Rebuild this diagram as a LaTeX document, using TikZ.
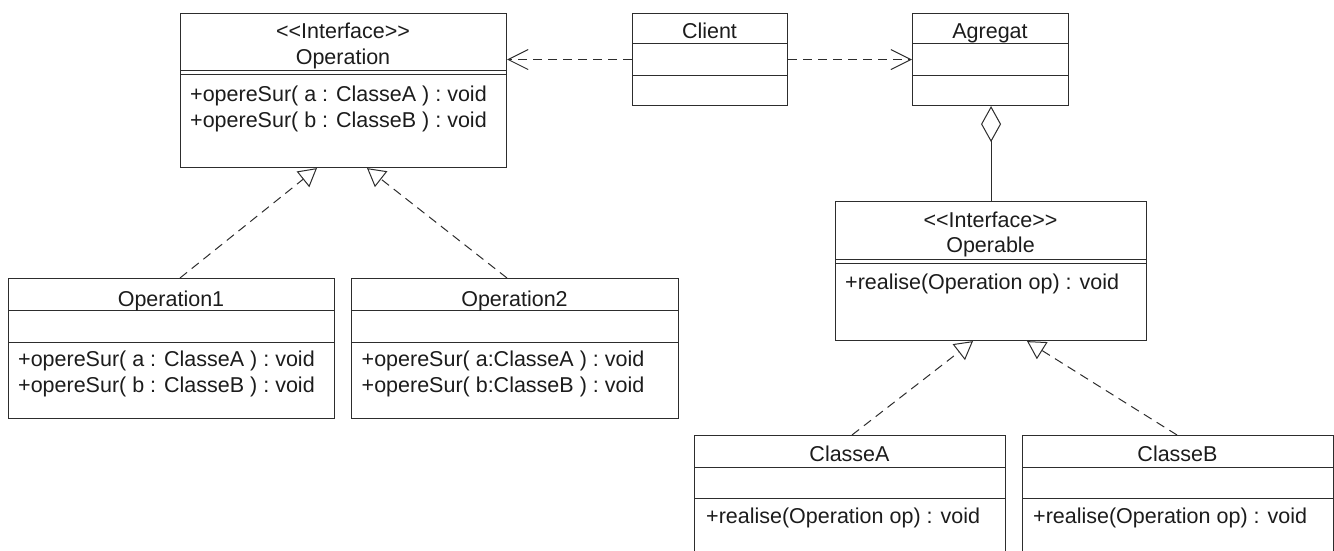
\documentclass[tikz,border=0pt]{standalone}
\usepackage{fontspec}
\setmainfont{Liberation Sans}[Ligatures=TeXOff]
\usetikzlibrary{arrows.meta,calc}
\definecolor{umlline}{RGB}{45,45,45}
\definecolor{umltext}{RGB}{28,28,28}
\begin{document}
\begin{tikzpicture}[x=1pt,y=-1pt,
  classbox/.style={draw=umlline, line width=1.1pt, fill=white, rectangle, inner sep=0pt, anchor=north west},
  sep/.style={draw=umlline, line width=1pt},
  lbl/.style={inner sep=0pt, anchor=base, text=umltext, font=\fontsize{21.5}{25}\selectfont},
  meth/.style={lbl, anchor=base west},
  depend/.style={draw=umlline, line width=1pt, dash pattern=on 9pt off 6pt, -{Straight Barb[length=20pt,width=20pt]}},
  realize/.style={draw=umlline, line width=1pt, dash pattern=on 9pt off 6pt, -{Triangle[open,length=18pt,width=20pt,fill=white]}},
  aggr/.style={draw=umlline, line width=1pt, -{Diamond[open,length=36pt,width=20pt,fill=white]}}
]
\useasboundingbox (0,0) rectangle (1334,551);
\clip (0,0) rectangle (1334,551);

% class frames
\node[classbox, minimum width=326pt, minimum height=154pt] (op)     at (180,13)  {};
\node[classbox, minimum width=155pt, minimum height=92pt]  (client) at (632,13)  {};
\node[classbox, minimum width=156pt, minimum height=92pt]  (agg)    at (912,13)  {};
\node[classbox, minimum width=311pt, minimum height=139pt] (opable) at (835,201) {};
\node[classbox, minimum width=326pt, minimum height=140pt] (op1)    at (8,278)   {};
\node[classbox, minimum width=327pt, minimum height=140pt] (op2)    at (351,278) {};
\node[classbox, minimum width=311pt, minimum height=140pt] (ca)     at (694,435) {};
\node[classbox, minimum width=311pt, minimum height=140pt] (cb)     at (1022,435) {};

% compartment separators
\foreach \n/\a/\b in {op/58/62, opable/58/62} {
  \draw[sep] ($(\n.north west)+(0,\a)$) -- ($(\n.north east)+(0,\a)$);
  \draw[sep] ($(\n.north west)+(0,\b)$) -- ($(\n.north east)+(0,\b)$);
}
\foreach \n/\a/\b in {client/31/63, agg/31/63, op1/32/64, op2/32/64, ca/32/63, cb/32/63} {
  \draw[sep] ($(\n.north west)+(0,\a)$) -- ($(\n.north east)+(0,\a)$);
  \draw[sep] ($(\n.north west)+(0,\b)$) -- ($(\n.north east)+(0,\b)$);
}

% texts
\node[lbl] (opst) at (343,38.3) {<<Interface>>};
\node[lbl] (opnm) at (343,65) {Operation};
\node[meth] (opm1) at (190,101.7) {+opereSur( a : ClasseA ) : void};
\node[meth] (opm2) at (190,127.5) {+opereSur( b : ClasseB ) : void};

\node[lbl] (clnm) at (709.5,39) {Client};
\node[lbl] (agnm) at (990,39) {Agregat};

\node[lbl] (obst) at (990.5,227.5) {<<Interface>>};
\node[lbl] (obnm) at (990.5,252.7) {Operable};
\node[meth] (obm1) at (845,289.3) {+realise(Operation op) : void};

\node[lbl] (o1nm) at (171,306.5) {Operation1};
\node[meth] (o1m1) at (18,366.7) {+opereSur( a : ClasseA ) : void};
\node[meth] (o1m2) at (18,392.7) {+opereSur( b : ClasseB ) : void};

\node[lbl] (o2nm) at (514.5,306.5) {Operation2};
\node[meth] (o2m1) at (361.5,366.7) {+opereSur( a:ClasseA ) : void};
\node[meth] (o2m2) at (361.5,392.7) {+opereSur( b:ClasseB ) : void};

\node[lbl] (canm) at (849.5,461) {ClasseA};
\node[meth] (cam1) at (706,523.3) {+realise(Operation op) : void};
\node[lbl] (cbnm) at (1177.5,461) {ClasseB};
\node[meth] (cbm1) at (1033,523.3) {+realise(Operation op) : void};

% dependencies of the client
\draw[depend] (client.west) -- (client.west -| op.east);
\draw[depend] (client.east) -- (client.east -| agg.west);

% aggregation
\draw[aggr] (opable.north) -- (opable.north |- agg.south);

% realizations
\draw[realize] ([xshift=172pt]op1.north west) -- ([xshift=137pt]op.south west);
\draw[realize] ([xshift=156pt]op2.north west) -- ([xshift=187pt]op.south west);
\draw[realize] ([xshift=158pt]ca.north west) -- ([xshift=138pt]opable.south west);
\draw[realize] ([xshift=155pt]cb.north west) -- ([xshift=192pt]opable.south west);
\end{tikzpicture}
\end{document}
